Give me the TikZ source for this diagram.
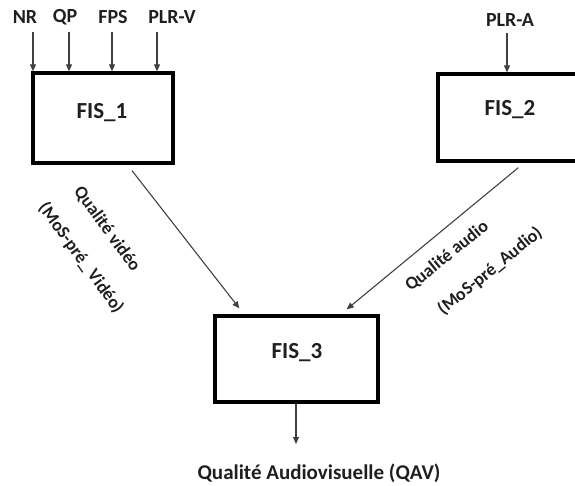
\documentclass[tikz,border=0pt]{standalone}
\usepackage{fontspec}
\setmainfont{Carlito}
\usetikzlibrary{arrows.meta,calc}
\begin{document}
\begin{tikzpicture}[x=1pt,y=-1pt,
  fisbox/.style={draw=black, line width=3.3pt, inner sep=0pt, rectangle},
  fisname/.style={font=\fontsize{23}{27}\selectfont\bfseries, text=black!88, inner sep=0pt},
  lbl/.style={font=\fontsize{20}{24}\selectfont\bfseries, text=black!88, inner sep=0pt},
  outlbl/.style={font=\fontsize{21}{25}\selectfont\bfseries, text=black!88, inner sep=0pt},
  rotlbl/.style={font=\fontsize{18}{22}\selectfont\bfseries, text=black!88, inner sep=0pt},
  conn/.style={draw=black!75, line width=1.1pt, -{Triangle[length=7pt,width=6pt]}}
]
\clip (0,0) rectangle (575,486);
\useasboundingbox (0,0) rectangle (575,486);

% processing blocks
\node[fisbox, minimum width=140pt, minimum height=90pt] (fis1) at (103,118) {};
\node[fisbox, minimum width=180pt, minimum height=87pt] (fis2) at (528,117.5) {};
\node[fisbox, minimum width=163pt, minimum height=86pt] (fis3) at (296.5,359) {};
\node[fisname] (fis1name) at (102,113) {FIS\_1};
\node[fisname] (fis2name) at (510,110) {FIS\_2};
\node[fisname] (fis3name) at (297,353) {FIS\_3};

% video inputs
\node[lbl] (nr)   at (25,17.5)  {NR};
\node[lbl] (qp)   at (65,17.5)  {QP};
\node[lbl] (fps)  at (113,17.5) {FPS};
\node[lbl] (plrv) at (172,17.5) {PLR-V};
\coordinate (inNR)   at (33,32);
\coordinate (inQP)   at (69,32);
\coordinate (inFPS)  at (112,32);
\coordinate (inPLRV) at (157,32);
\foreach \c in {inNR,inQP,inFPS,inPLRV}
  \draw[conn] (\c) -- (\c |- fis1.north);

% audio input
\node[lbl] (plra) at (510,20) {PLR-A};
\coordinate (inPLRA) at (507,33);
\draw[conn] (inPLRA) -- (inPLRA |- fis2.north);

% intermediate scores
\draw[conn] ($(fis1.south)+(29,6)$) -- ($(fis3.north west)+(26,-6)$);
\draw[conn] ($(fis2.south west)+(82,5)$) -- ($(fis3.north east)+(-33,-5)$);

\node[rotlbl, rotate=-54] (qvideo) at (107,229) {Qualité vidéo};
\node[rotlbl, rotate=-54] (mosv)   at (81,258)  {(MoS-pré\_ Vidéo)};
\node[rotlbl, rotate=39]  (qaudio) at (447,256) {Qualité audio};
\node[rotlbl, rotate=39]  (mosa)   at (490,271) {(MoS-pré\_Audio)};

% final output
\node[outlbl] (qav) at (319,473) {Qualité Audiovisuelle (QAV)};
\coordinate (outQAV) at (296,444);
\draw[conn] (fis3.south -| outQAV) -- (outQAV);
\end{tikzpicture}
\end{document}
